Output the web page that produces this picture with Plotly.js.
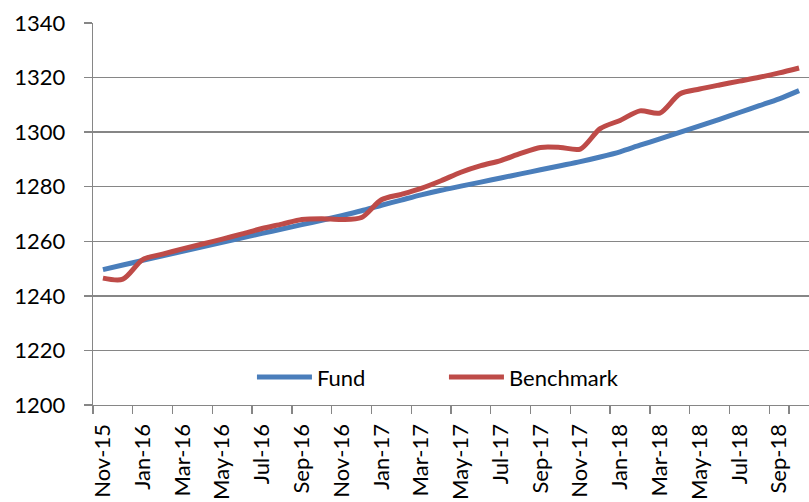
<!DOCTYPE html>
<html>
<head>
<meta charset="utf-8">
<script src="https://cdn.plot.ly/plotly-3.0.1.min.js"></script>
<style>html,body{margin:0;padding:0;background:#fff;}#chart{width:809px;height:502px;}</style>
</head>
<body>
<div id="chart"></div>
<script>
var months = ["Nov-15","Dec-15","Jan-16","Feb-16","Mar-16","Apr-16","May-16","Jun-16","Jul-16","Aug-16","Sep-16","Oct-16",
  "Nov-16","Dec-16","Jan-17","Feb-17","Mar-17","Apr-17","May-17","Jun-17","Jul-17","Aug-17","Sep-17","Oct-17",
  "Nov-17","Dec-17","Jan-18","Feb-18","Mar-18","Apr-18","May-18","Jun-18","Jul-18","Aug-18","Sep-18","Oct-18"];
var fund = [1249.6,1251.3,1253.0,1254.7,1256.3,1258.0,1259.6,1261.3,1262.9,1264.5,1266.1,1267.7,
  1269.4,1271.2,1273.2,1275.1,1277.0,1278.7,1280.2,1281.7,1283.2,1284.7,1286.2,1287.7,
  1289.2,1290.9,1292.8,1295.2,1297.5,1299.9,1302.3,1304.7,1307.2,1309.7,1312.2,1315.2];
var benchmark = [1246.5,1246.1,1253.3,1255.3,1257.2,1259.0,1260.8,1262.7,1264.7,1266.3,1268.0,1268.3,
  1268.0,1268.7,1275.2,1277.2,1279.4,1282.2,1285.3,1287.7,1289.6,1292.2,1294.4,1294.4,
  1293.8,1301.3,1304.3,1307.8,1307.0,1314.0,1315.8,1317.3,1318.7,1320.1,1321.7,1323.5];
var labelMonths = months.filter(function(m, i){ return i % 2 === 0; });
var yTicks = [1200,1220,1240,1260,1280,1300,1320,1340];

var font = {family: "Lato, 'Liberation Sans', sans-serif", size: 22, color: "#000"};
var traces = [
  {x: months, y: fund, name: "Fund", type: "scatter", mode: "lines",
   line: {color: "#4A7EBB", width: 5, shape: "spline", smoothing: 0.8}},
  {x: months, y: benchmark, name: "Benchmark", type: "scatter", mode: "lines",
   line: {color: "#BE4B48", width: 5, shape: "spline", smoothing: 0.8}}
];
var layout = {
  width: 809, height: 502,
  margin: {l: 93, r: 0, t: 23, b: 97},
  paper_bgcolor: "#fff", plot_bgcolor: "#fff",
  font: font,
  showlegend: true,
  legend: {orientation: "h", x: 0.222, xanchor: "left", y: 0.073, yanchor: "middle",
    bgcolor: "rgba(0,0,0,0)", font: font, entrywidth: 122, itemwidth: 55},
  xaxis: {type: "category", range: [-0.5, 35.5], tickmode: "array", tickvals: labelMonths, ticktext: labelMonths,
    tickangle: -90, tickson: "boundaries", ticks: "outside", ticklen: 8, tickcolor: "#868686", tickwidth: 1.3,
    showline: true, linecolor: "#868686", linewidth: 1.3, showgrid: false, zeroline: false,
    tickfont: font, ticklabelstandoff: 9},
  yaxis: {range: [1200, 1340], tickmode: "array", tickvals: yTicks, ticks: "outside", ticklen: 8,
    tickcolor: "#868686", tickwidth: 1.3, showline: true, linecolor: "#868686", linewidth: 1.3,
    showgrid: true, gridcolor: "#868686", gridwidth: 1.3, zeroline: false, tickfont: font,
    ticklabelstandoff: 14}
};
Plotly.newPlot("chart", traces, layout, {displayModeBar: false, staticPlot: true});
</script>
</body>
</html>
